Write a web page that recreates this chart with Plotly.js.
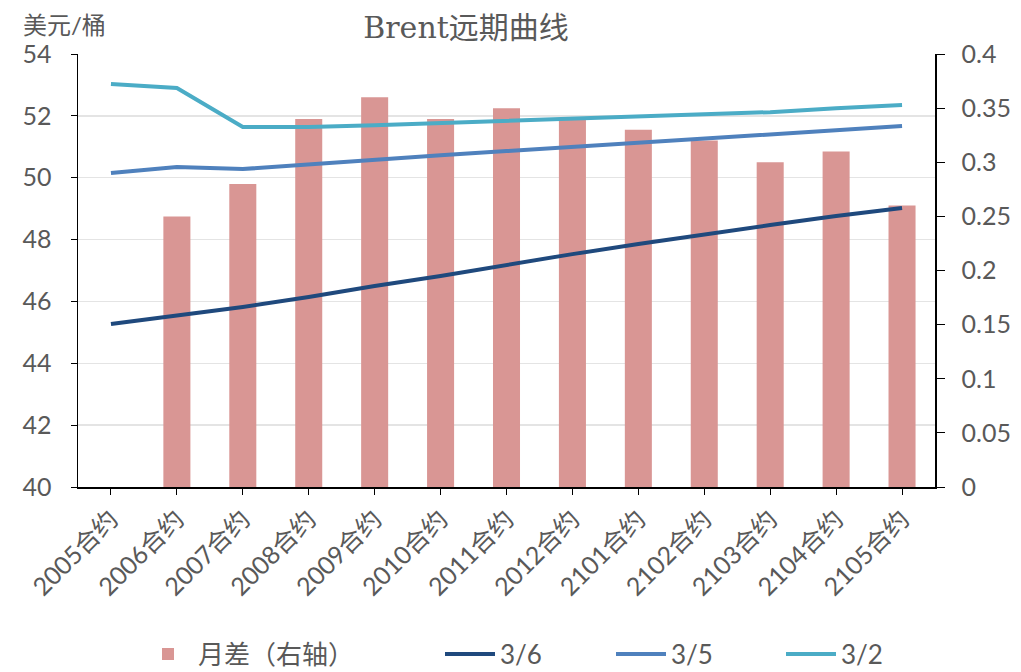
<!DOCTYPE html>
<html>
<head>
<meta charset="utf-8">
<script src="https://cdn.plot.ly/plotly-3.0.1.min.js"></script>
<style>html,body{margin:0;padding:0;background:#fff}#chart{width:1021px;height:672px}</style>
</head>
<body>
<div id="chart"></div>
<script>
const categories = ['2005合约','2006合约','2007合约','2008合约','2009合约','2010合约','2011合约','2012合约','2101合约','2102合约','2103合约','2104合约','2105合约'];
const spread = [null,0.25,0.28,0.34,0.36,0.34,0.35,0.34,0.33,0.32,0.30,0.31,0.26];
const s36 = [45.27,45.53,45.82,46.14,46.50,46.82,47.18,47.53,47.86,48.18,48.47,48.76,49.02];
const s35 = [50.15,50.35,50.28,50.44,50.60,50.73,50.86,50.99,51.12,51.25,51.38,51.54,51.67];
const s32 = [53.03,52.90,51.64,51.64,51.70,51.77,51.83,51.90,51.96,52.03,52.12,52.25,52.35];
const names = ['月差（右轴）','3/6','3/5','3/2'];

const txt = '#595959';
const baseFont = 'Lato, "Noto Sans CJK SC", sans-serif';

const traces = [
  {type:'bar', x:categories, y:spread, name:names[0], yaxis:'y', marker:{color:'#D99694'}, width:0.41, legend:'legend'},
  {type:'scatter', mode:'lines', x:categories, y:s36, name:names[1], yaxis:'y2', line:{color:'#1F497D', width:4}, legend:'legend2'},
  {type:'scatter', mode:'lines', x:categories, y:s35, name:names[2], yaxis:'y2', line:{color:'#4F81BD', width:4}, legend:'legend3'},
  {type:'scatter', mode:'lines', x:categories, y:s32, name:names[3], yaxis:'y2', line:{color:'#4BACC6', width:4}, legend:'legend4'}
];

function lg(x){
  return {orientation:'h', xref:'container', yref:'container', x:x, y:1-654/672, xanchor:'left', yanchor:'middle',
          font:{size:26, color:txt, family:baseFont}, bgcolor:'rgba(0,0,0,0)', itemwidth:50};
}

const layout = {
  width:1021, height:672,
  margin:{l:78, r:86, t:54, b:185},
  paper_bgcolor:'#fff', plot_bgcolor:'#fff',
  font:{family:baseFont, color:txt, size:24},
  title:{text:'Brent远期曲线', xref:'container', yref:'container', x:466/1021, xanchor:'center', y:1-27/672, yanchor:'middle',
         font:{family:'"DejaVu Serif", "Noto Sans CJK SC", serif', size:30, color:txt}},
  showlegend:true,
  xaxis:{type:'category', range:[-0.5,12.5], tickangle:-45, showline:true, linecolor:'#000', linewidth:1.5,
         ticks:'outside', ticklen:6, tickcolor:'#000', tickfont:{size:25, color:txt}, showgrid:false, fixedrange:true},
  yaxis:{side:'right', range:[0,0.4], dtick:0.05, tick0:0, showgrid:false, zeroline:false, showline:true, linecolor:'#000', linewidth:1.5,
         ticks:'outside', ticklen:8, tickcolor:'#000', tickfont:{size:25, color:txt}, ticklabelstandoff:12},
  yaxis2:{overlaying:'y', side:'left', range:[40,54], dtick:2, tick0:40, showgrid:true, gridcolor:'#E4E4E4', gridwidth:1.5, zeroline:false,
          showline:true, linecolor:'#000', linewidth:1.5, ticks:'outside', ticklen:6, tickcolor:'#000', tickfont:{size:25, color:txt}, ticklabelstandoff:14},
  legend:lg(138/1021),
  legend2:lg(440/1021),
  legend3:lg(611/1021),
  legend4:lg(781/1021),
  annotations:[{text:'美元/桶', xref:'paper', yref:'paper', x:(22-78)/857, xanchor:'left', y:(487-24)/433, yanchor:'middle',
                showarrow:false, borderpad:0, font:{size:24, color:txt}}]
};

Plotly.newPlot('chart', traces, layout, {displayModeBar:false, staticPlot:true});
</script>
</body>
</html>
